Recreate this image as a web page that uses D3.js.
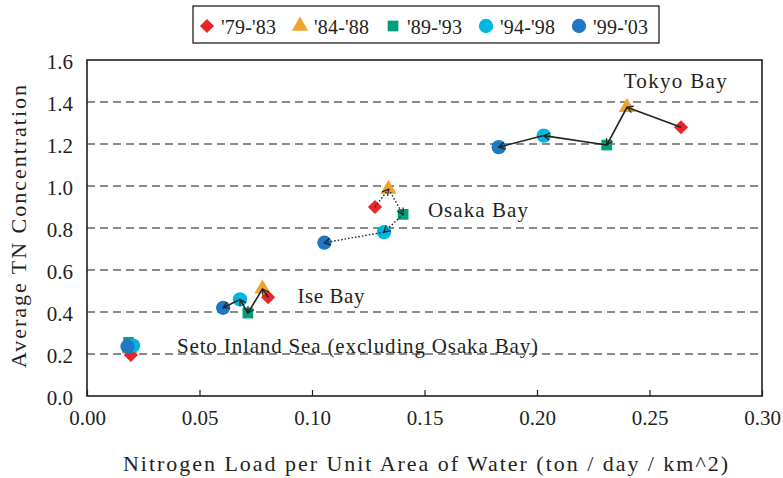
<!DOCTYPE html>
<html>
<head>
<meta charset="utf-8">
<script src="https://cdn.jsdelivr.net/npm/d3@7"></script>
<style>
    body { margin: 0; background: #fff; }
</style>
</head>
<body>
<div id="graph"></div>
<script>
// periods (legend order) and one value per period for each bay
var periods = ["'79-'83", "'84-'88", "'89-'93", "'94-'98", "'99-'03"];
var periodColors = ["#e8262a", "#f0a22e", "#00a07c", "#00b6e2", "#1f78c4"];
var periodShapes = ["diamond", "triangle", "square", "circle", "circle"];

var bays = ["Tokyo Bay", "Osaka Bay", "Ise Bay", "Seto Inland Sea (excluding Osaka Bay)"];
var tokyoLoad = [0.264, 0.240, 0.231, 0.203, 0.183];
var tokyoTN   = [1.28, 1.375, 1.195, 1.24, 1.185];
var osakaLoad = [0.128, 0.134, 0.1405, 0.132, 0.1055];
var osakaTN   = [0.90, 0.985, 0.865, 0.78, 0.73];
var iseLoad   = [0.0805, 0.078, 0.0715, 0.068, 0.0605];
var iseTN     = [0.47, 0.51, 0.395, 0.46, 0.42];
var setoLoad  = [0.0195, 0.019, 0.0185, 0.0205, 0.018];
var setoTN    = [0.195, 0.225, 0.255, 0.24, 0.235];

// where each bay's label sits, in data units (left edge, baseline)
var labelLoad = [0.2385, 0.1515, 0.0935, 0.0400];
var labelTN   = [1.468, 0.852, 0.445, 0.207];
var labelWidth = [103, 100, 67, 361];
var lineDash  = ["none", "1.5,2", "none", null];

var xTicks = [0, 0.05, 0.10, 0.15, 0.20, 0.25, 0.30];
var yTicks = [0, 0.2, 0.4, 0.6, 0.8, 1.0, 1.2, 1.4, 1.6];

var W = 783, H = 478;
var margin = {left: 87, right: 21, top: 60, bottom: 82};
var FONT = "'Liberation Serif'";
var INK = "#231f20";

var svg = d3.select("#graph").append("svg")
    .attr("width", W).attr("height", H);

var x = d3.scaleLinear().domain([0, 0.30]).range([margin.left, W - margin.right]);
var y = d3.scaleLinear().domain([0, 1.6]).range([H - margin.bottom, margin.top]);

// arrow head
svg.append("defs").append("marker")
    .attr("id", "arr")
    .attr("viewBox", "-8 -5 10 10")
    .attr("markerWidth", 10).attr("markerHeight", 10)
    .attr("markerUnits", "userSpaceOnUse")
    .attr("refX", 0).attr("refY", 0)
    .attr("orient", "auto")
    .append("path")
    .attr("d", "M-6,-3.5L0,0L-6,3.5")
    .attr("fill", "none")
    .attr("stroke", "#222")
    .attr("stroke-width", 1.2);

// grid
svg.append("g").selectAll("line")
    .data(yTicks.filter(function(d) { return d > 0 && d < 1.6; }))
    .enter().append("line")
    .attr("x1", x(0)).attr("x2", x(0.30))
    .attr("y1", function(d) { return y(d); })
    .attr("y2", function(d) { return y(d); })
    .attr("stroke", "#666")
    .attr("stroke-width", 1.3)
    .attr("stroke-dasharray", "8,5");

// axes
var xAxis = d3.axisBottom(x).tickValues(xTicks).tickSize(-6).tickPadding(14)
    .tickFormat(d3.format(".2f"));
var yAxis = d3.axisLeft(y).tickValues(yTicks).tickSize(0).tickPadding(14)
    .tickFormat(d3.format(".1f"));

var gX = svg.append("g")
    .attr("transform", "translate(0," + y(0) + ")")
    .call(xAxis);
var gY = svg.append("g")
    .attr("transform", "translate(" + x(0) + ",0)")
    .call(yAxis);
[gX, gY].forEach(function(g) {
    g.attr("font-family", null).attr("font-size", null);
    g.select(".domain").remove();
    g.selectAll("line").attr("stroke", INK).attr("stroke-width", 1.2);
    g.selectAll("text")
        .style("font-family", FONT)
        .style("font-size", "21px")
        .attr("fill", INK);
});
gY.selectAll("text").attr("dy", "0.4em");

// frame
svg.append("rect")
    .attr("x", x(0)).attr("y", y(1.6))
    .attr("width", x(0.30) - x(0)).attr("height", y(0) - y(1.6))
    .attr("fill", "none").attr("stroke", INK).attr("stroke-width", 1.6);

var addText = function(parent, str, size, width) {
    var t = parent.append("text")
        .style("font-family", FONT)
        .style("font-size", size + "px")
        .attr("fill", INK)
        .text(str);
    if (width) t.attr("textLength", width).attr("lengthAdjust", "spacing");
    return t;
};

// axis titles
addText(svg, "Nitrogen Load per Unit Area of Water (ton / day / km^2)", 22, 605)
    .attr("x", 123).attr("y", 471);
addText(svg, "Average TN Concentration", 22, 283)
    .attr("transform", "translate(26,368) rotate(-90)");

var symbolOf = function(shape) {
    if (shape === "diamond") return d3.symbol().type(d3.symbolSquare).size(100);
    if (shape === "triangle") return d3.symbol().type(d3.symbolTriangle).size(115);
    if (shape === "square") return d3.symbol().type(d3.symbolSquare).size(115);
    return d3.symbol().type(d3.symbolCircle).size(160);
};
var rotOf = function(shape) { return shape === "diamond" ? " rotate(45)" : ""; };

var loads = [tokyoLoad, osakaLoad, iseLoad, setoLoad];
var tns = [tokyoTN, osakaTN, iseTN, setoTN];
var drawOrder = [1, 0, 2, 3, 4];

var plot = svg.append("g");
bays.forEach(function(bay, b) {
    var pts = periods.map(function(p, i) { return {i: i, load: loads[b][i], tn: tns[b][i]}; });
    var g = plot.append("g");
    g.selectAll("path.pt")
        .data(drawOrder.map(function(i) { return pts[i]; }))
        .enter().append("path")
        .attr("class", "pt")
        .attr("d", function(d) { return symbolOf(periodShapes[d.i])(); })
        .attr("transform", function(d) {
            return "translate(" + x(d.load) + "," + y(d.tn) + ")" + rotOf(periodShapes[d.i]);
        })
        .attr("fill", function(d) { return periodColors[d.i]; });

    if (lineDash[b] !== null) {
        for (var i = 0; i < pts.length - 1; i++) {
            g.append("line")
                .attr("x1", x(pts[i].load)).attr("y1", y(pts[i].tn))
                .attr("x2", x(pts[i + 1].load)).attr("y2", y(pts[i + 1].tn))
                .attr("stroke", "#222")
                .attr("stroke-width", lineDash[b] === "none" ? 1.6 : 1.4)
                .attr("stroke-dasharray", lineDash[b])
                .attr("marker-end", "url(#arr)");
        }
    }

    addText(svg, bay, 21, labelWidth[b])
        .attr("x", x(labelLoad[b])).attr("y", y(labelTN[b]));
});

// legend
var legend = svg.append("g");
legend.append("rect")
    .attr("x", 193).attr("y", 6).attr("width", 466).attr("height", 37)
    .attr("fill", "#fff").attr("stroke", INK).attr("stroke-width", 1.3);
var item = legend.selectAll("g.item").data(periods).enter().append("g")
    .attr("transform", function(d, i) { return "translate(" + (207 + i * 93) + ",26)"; });
item.append("path")
    .attr("d", function(d, i) { return symbolOf(periodShapes[i])(); })
    .attr("transform", function(d, i) { return rotOf(periodShapes[i]).trim() || null; })
    .attr("fill", function(d, i) { return periodColors[i]; });
item.each(function(d) {
    addText(d3.select(this), d, 20, 55).attr("x", 14).attr("y", 8);
});
</script>
</body>
</html>
